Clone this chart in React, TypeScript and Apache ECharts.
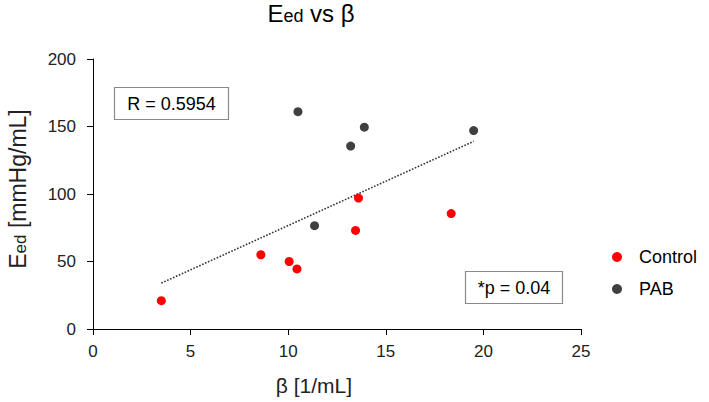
import React, { useEffect, useRef } from "react";
import * as echarts from "echarts";

const controlBeta = [3.5, 8.6, 10.05, 10.45, 13.6, 13.45, 18.35];
const controlEed = [21, 55, 50, 44.5, 97, 73, 85.5];
const pabBeta = [10.5, 13.9, 13.2, 19.5, 11.35];
const pabEed = [161, 149.5, 135.5, 147, 76.5];
const trendBeta = [3.5, 19.5];
const trendEed = [34, 139];
const xTicks = [0, 5, 10, 15, 20, 25];
const yTicks = [0, 50, 100, 150, 200];

const FONT = "'Liberation Sans', Arial, sans-serif";

export default function App() {
  const ref = useRef<HTMLDivElement>(null);
  useEffect(() => {
    if (!ref.current) return;
    const chart = echarts.init(ref.current, undefined, { renderer: "svg" });
    chart.setOption({
      animation: false,
      backgroundColor: "#ffffff",
      textStyle: { fontFamily: FONT },
      grid: { left: 93, right: 128, top: 59, bottom: 73 },
      legend: {
        orient: "vertical",
        left: 607,
        top: 243,
        itemGap: 14,
        itemWidth: 34,
        itemHeight: 10,
        icon: "circle",
        data: ["Control", "PAB"],
        textStyle: { fontSize: 18, color: "#000", fontFamily: FONT },
      },
      xAxis: {
        type: "value",
        min: xTicks[0],
        max: xTicks[xTicks.length - 1],
        interval: 5,
        splitLine: { show: false },
        axisLine: { show: true, lineStyle: { color: "#000", width: 1 } },
        axisTick: { show: true, length: 6, lineStyle: { color: "#000" } },
        axisLabel: { fontSize: 17, color: "#222", margin: 14, fontFamily: FONT },
      },
      yAxis: {
        type: "value",
        min: yTicks[0],
        max: yTicks[yTicks.length - 1],
        interval: 50,
        splitLine: { show: false },
        axisLine: { show: true, onZero: false, lineStyle: { color: "#000", width: 1 } },
        axisTick: { show: true, length: 6, lineStyle: { color: "#000" } },
        axisLabel: { fontSize: 17, color: "#222", margin: 17, fontFamily: FONT },
      },
      graphic: [
        {
          type: "text",
          x: 311,
          y: 12,
          style: {
            text: "{big|E}{sub|ed}{big| vs β}",
            align: "center",
            verticalAlign: "middle",
            rich: {
              big: { fontSize: 24, fontFamily: FONT, fill: "#000", verticalAlign: "bottom", lineHeight: 26 },
              sub: { fontSize: 18, fontFamily: FONT, fill: "#000", verticalAlign: "bottom", lineHeight: 22 },
            },
          },
        },
        {
          type: "text",
          x: 16,
          y: 189,
          rotation: Math.PI / 2,
          style: {
            text: "{big|E}{sub|ed}{big| [mmHg/mL]}",
            align: "center",
            verticalAlign: "middle",
            rich: {
              big: { fontSize: 23, fontFamily: FONT, fill: "#222", verticalAlign: "bottom", lineHeight: 26 },
              sub: { fontSize: 17, fontFamily: FONT, fill: "#222", verticalAlign: "bottom", lineHeight: 21 },
            },
          },
        },
        {
          type: "text",
          x: 314,
          y: 385,
          style: {
            text: "β [1/mL]",
            align: "center",
            verticalAlign: "middle",
            fontSize: 21,
            fontFamily: FONT,
            fill: "#222",
          },
        },
        {
          type: "rect",
          shape: { x: 114.5, y: 87.5, width: 114, height: 32 },
          style: { fill: "#fff", stroke: "#8a8a8a", lineWidth: 1.2 },
          z: 10,
        },
        {
          type: "text",
          x: 171.5,
          y: 104,
          z: 11,
          style: {
            text: "R = 0.5954",
            align: "center",
            verticalAlign: "middle",
            fontSize: 18,
            fontFamily: FONT,
            fill: "#000",
          },
        },
        {
          type: "rect",
          shape: { x: 465.5, y: 271.5, width: 97, height: 32 },
          style: { fill: "#fff", stroke: "#8a8a8a", lineWidth: 1.2 },
          z: 10,
        },
        {
          type: "text",
          x: 514,
          y: 288,
          z: 11,
          style: {
            text: "*p = 0.04",
            align: "center",
            verticalAlign: "middle",
            fontSize: 18,
            fontFamily: FONT,
            fill: "#000",
          },
        },
      ],
      series: [
        {
          name: "trend",
          type: "line",
          data: trendBeta.map((b, i) => [b, trendEed[i]]),
          symbol: "none",
          lineStyle: { color: "#333", width: 1.6, type: [1.6, 1.6] },
          silent: true,
          z: 1,
        },
        {
          name: "Control",
          type: "scatter",
          symbolSize: 9,
          itemStyle: { color: "#ff0000", opacity: 1 },
          data: controlBeta.map((b, i) => [b, controlEed[i]]),
          z: 3,
        },
        {
          name: "PAB",
          type: "scatter",
          symbolSize: 9,
          itemStyle: { color: "#404040", opacity: 1 },
          data: pabBeta.map((b, i) => [b, pabEed[i]]),
          z: 3,
        },
      ],
    });
    return () => chart.dispose();
  }, []);
  return <div ref={ref} style={{ width: 709, height: 402, position: "absolute", left: 0, top: 0 }} />;
}
